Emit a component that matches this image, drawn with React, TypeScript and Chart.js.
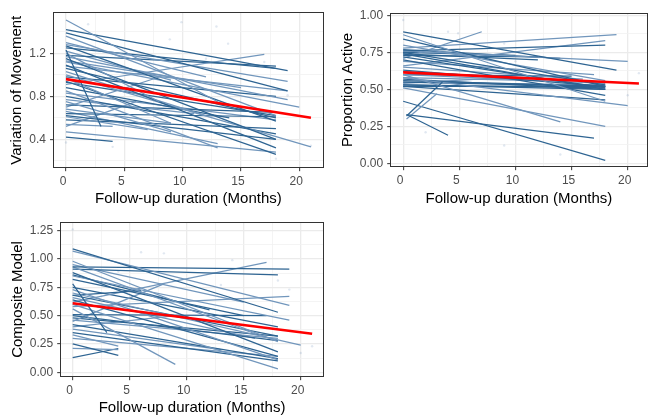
import React, { useEffect, useRef } from 'react';
import { Chart, registerables } from 'chart.js';

Chart.register(...registerables);

const FONT = '"Liberation Sans", Arial, Helvetica, sans-serif';
const DARK = '#2E6492';
const LIGHT = '#7196BC';
const POINT = 'rgba(70,115,165,0.16)';

// ---------- shared ----------
const monthMajor = [0, 5, 10, 15, 20];
const monthMinor = [2.5, 7.5, 12.5, 17.5];
const meanMonths = [0, 21];
const xTitle = 'Follow-up duration (Months)';

// ---------- Panel 1: Variation of Movement ----------
const vomStart = [1.51, 1.42, 1.39, 1.36, 1.28, 1.27, 1.25, 1.23, 1.2, 1.17, 1.15, 1.13, 1.12, 1.09, 1.06, 1.03, 1.0, 0.98, 0.97, 0.94, 0.91, 0.88, 0.85, 0.8, 0.77, 0.75, 0.72, 0.7, 0.68, 0.64, 0.62, 0.61, 0.54, 0.52, 0.47, 0.42, 1.3, 1.18, 1.08, 0.93, 0.83, 0.66, 1.22, 0.58];
const vomEnd = [0.75, 1.04, 0.85, 0.62, 0.94, 0.57, 1.06, 0.52, 0.75, 0.77, 0.4, 0.88, 0.7, 0.32, 0.6, 0.62, 0.33, 0.8, 0.55, 0.26, 1.19, 0.6, 0.32, 0.45, 0.64, 0.47, 0.65, 0.98, 0.55, 0.61, 0.4, 0.49, 0.52, 0.75, 0.28, 0.38, 0.98, 1.08, 0.85, 0.62, 0.58, 0.36, 0.95, 0.5];
const vomMonths = [13, 19, 19, 18, 19, 18, 18, 3, 8, 19, 18, 15, 20, 18, 18, 12, 21, 18, 9, 18, 17, 14, 13, 18, 11, 9, 18, 8, 9, 18, 18, 7, 4, 6, 18, 4, 12, 18, 19, 18, 18, 13, 9, 18];
const vomDark = [0, 1, 1, 0, 0, 1, 1, 1, 0, 0, 1, 0, 0, 1, 1, 0, 0, 1, 0, 1, 0, 1, 0, 1, 0, 0, 1, 0, 0, 1, 1, 0, 0, 0, 0, 1, 0, 1, 0, 1, 0, 0, 0, 1];
const vomMean = [0.96, 0.6];
const vomPtsX = [0, 1.9, 4, 8.9, 9.9, 12, 12.9, 13.9, 17, 18, 19, 21];
const vomPtsY = [0.37, 1.47, 0.33, 1.33, 1.49, 1.15, 1.45, 1.29, 1.12, 0.22, 0.81, 0.34];
const vomMajor = [0.4, 0.8, 1.2];
const vomMinor = [0.2, 0.6, 1.0, 1.4];

// ---------- Panel 2: Proportion Active ----------
const paStartMonths = [0.3, 0.3, 0.3, 0.3];
const paStart = [0.33, 0.33, 0.32, 0.3, 0.89, 0.87, 0.84, 0.8, 0.78, 0.76, 0.76, 0.75, 0.74, 0.73, 0.72, 0.71, 0.7, 0.6, 0.66, 0.65, 0.63, 0.6, 0.6, 0.58, 0.56, 0.55, 0.54, 0.53, 0.52, 0.51, 0.42, 0.74, 0.77, 0.75, 0.53, 0.55, 0.57, 0.52, 0.58, 0.62, 0.69];
const paEnd = [0.17, 0.19, 0.55, 0.47, 0.63, 0.42, 0.52, 0.56, 0.87, 0.8, 0.69, 0.53, 0.5, 0.72, 0.51, 0.89, 0.46, 0.28, 0.83, 0.57, 0.52, 0.54, 0.59, 0.39, 0.52, 0.52, 0.58, 0.5, 0.43, 0.25, 0.02, 0.7, 0.71, 0.73, 0.51, 0.53, 0.5, 0.52, 0.56, 0.55, 0.6];
const paMonths = [17, 4, 3.5, 3, 19, 18, 18, 18, 19, 18, 20, 18, 18, 12, 18, 7, 18, 14, 18, 16, 18, 18, 15, 20, 18, 18, 9, 18, 18, 18, 18, 12, 14, 10, 18, 18, 18, 18, 12, 18, 17];
const paDark = [1, 1, 1, 0, 1, 0, 1, 0, 0, 1, 0, 1, 1, 1, 1, 0, 1, 0, 0, 0, 1, 0, 1, 0, 1, 1, 0, 1, 1, 0, 1, 1, 1, 1, 1, 0, 1, 1, 0, 1, 0];
const paMean = [0.615, 0.54];
const paPtsX = [0, 4, 4.9, 9, 10, 13, 21, 20, 9, 14, 2, 10];
const paPtsY = [0.97, 0.89, 0.88, 0.81, 0.69, 0.62, 0.61, 0.46, 0.12, 0.06, 0.21, 0.24];
const paMajor = [0, 0.25, 0.5, 0.75, 1.0];
const paMinor = [0.125, 0.375, 0.625, 0.875];

// ---------- Panel 3: Composite Model ----------
const cmStart = [1.09, 1.07, 0.98, 0.93, 0.93, 0.91, 0.88, 0.85, 0.82, 0.78, 0.73, 0.7, 0.68, 0.68, 0.64, 0.62, 0.6, 0.58, 0.56, 0.51, 0.5, 0.46, 0.45, 0.42, 0.38, 0.35, 0.33, 0.25, 0.21, 0.13, 0.95, 0.75, 0.66, 0.48, 0.4, 0.86, 0.3];
const cmEnd = [0.53, 0.59, 0.27, 0.91, 0.34, 0.86, 0.18, 0.46, 0.5, 0.35, 0.11, 0.24, 0.32, 0.72, 0.14, 0.97, 0.03, 0.67, 0.07, 0.5, 0.28, 0.3, 0.78, 0.12, 0.2, 0.1, 0.23, 0.15, 0.2, 0.21, 0.62, 0.4, 0.3, 0.32, 0.5, 0.55, 0.14];
const cmMonths = [18, 19, 18, 19, 16, 18, 18, 19, 15, 3, 18, 20, 18, 6, 18, 17, 18, 19, 9, 17, 18, 18, 8, 18, 13, 18, 4, 4, 4, 4, 15, 18, 16, 18, 9, 12, 18];
const cmDark = [1, 0, 0, 1, 0, 1, 1, 0, 1, 1, 0, 0, 1, 1, 1, 0, 0, 0, 0, 1, 1, 0, 0, 1, 0, 1, 0, 1, 0, 1, 0, 1, 0, 1, 0, 1, 0];
const cmMean = [0.61, 0.34];
const cmPtsX = [0, 6, 8, 4, 14, 18, 19, 20, 21, 13];
const cmPtsY = [1.26, 1.06, 1.05, 0.89, 0.99, 0.81, 0.73, 0.17, 0.23, 0.77];
const cmMajor = [0, 0.25, 0.5, 0.75, 1.0, 1.25];
const cmMinor = [0.125, 0.375, 0.625, 0.875, 1.125];

type Spec = {
  x: number; y: number; w: number; h: number;
  area: { l: number; t: number; r: number; b: number };
  xMin: number; xMax: number; yMin: number; yMax: number;
  yTitle: string; yTitlePad: number; xTitlePad: number; decimals: number;
  starts: number[]; ends: number[]; months: number[]; dark: number[]; startMonths?: number[];
  mean: number[]; ptsX: number[]; ptsY: number[]; yMajor: number[]; yMinor: number[];
};

const has = (arr: number[], v: number) => arr.some((a) => Math.abs(a - v) < 1e-9);

const panelBorder = {
  id: 'panelBorder',
  afterDatasetsDraw(chart: any) {
    const { ctx, chartArea: a } = chart;
    ctx.save();
    ctx.strokeStyle = '#333333';
    ctx.lineWidth = 1;
    const l = Math.floor(a.left) + 0.5;
    const t = Math.floor(a.top) + 0.5;
    const r = Math.floor(a.right) + 0.5;
    const b = Math.floor(a.bottom) + 0.5;
    ctx.strokeRect(l, t, r - l, b - t);
    ctx.restore();
  },
};

function gridOpts(major: number[]) {
  return {
    color: (c: any) => (c.tick && has(major, c.tick.value) ? '#EBEBEB' : '#F1F1F1'),
    lineWidth: (c: any) => (c.tick && has(major, c.tick.value) ? 1.3 : 0.8),
    tickColor: (c: any) => (c.tick && has(major, c.tick.value) ? '#333333' : 'rgba(0,0,0,0)'),
    tickLength: 3.5,
    tickWidth: 1,
    drawTicks: true,
  };
}

function buildConfig(s: Spec): any {
  const lines = s.starts.map((v, i) => ({
    type: 'line',
    data: [
      { x: s.startMonths && i < s.startMonths.length ? s.startMonths[i] : 0, y: v },
      { x: s.months[i], y: s.ends[i] },
    ],
    borderColor: s.dark[i] ? DARK : LIGHT,
    borderWidth: 1.25,
    pointRadius: 0,
    fill: false,
    order: 1,
  }));
  const mean = {
    type: 'line',
    data: meanMonths.map((m, i) => ({ x: m, y: s.mean[i] })),
    borderColor: '#FF0000',
    borderWidth: 2.6,
    pointRadius: 0,
    fill: false,
    order: 0,
  };
  const pts = {
    type: 'scatter',
    data: s.ptsX.map((x, i) => ({ x, y: s.ptsY[i] })),
    backgroundColor: POINT,
    borderWidth: 0,
    pointRadius: 1.2,
    order: 2,
  };
  const xTicks = [...monthMajor, ...monthMinor].sort((a, b) => a - b);
  const yTicks = [...s.yMajor, ...s.yMinor].sort((a, b) => a - b);
  return {
    type: 'line',
    data: { datasets: [mean, ...lines, pts] },
    plugins: [panelBorder],
    options: {
      responsive: false,
      animation: false,
      devicePixelRatio: 1,
      events: [],
      layout: { padding: { left: 0, top: s.area.t, right: s.w - s.area.r, bottom: 0 } },
      plugins: { legend: { display: false }, tooltip: { enabled: false } },
      scales: {
        x: {
          type: 'linear',
          min: s.xMin,
          max: s.xMax,
          bounds: 'data',
          afterFit: (sc: any) => { sc.height = s.h - s.area.b; },
          afterBuildTicks: (sc: any) => { sc.ticks = xTicks.map((v) => ({ value: v })); },
          ticks: {
            autoSkip: false, maxRotation: 0, minRotation: 0, padding: 3.5, labelOffset: -3,
            color: '#4D4D4D', font: { family: FONT, size: 12 },
            callback: (v: number) => (has(monthMajor, v) ? String(v) : ''),
          },
          grid: gridOpts(monthMajor),
          border: { display: false },
          title: {
            display: true, text: xTitle, color: '#000000',
            font: { family: FONT, size: 15 }, padding: { top: 0, bottom: s.xTitlePad },
          },
        },
        y: {
          type: 'linear',
          min: s.yMin,
          max: s.yMax,
          bounds: 'data',
          afterFit: (sc: any) => { sc.width = s.area.l; },
          afterBuildTicks: (sc: any) => { sc.ticks = yTicks.map((v) => ({ value: v })); },
          ticks: {
            autoSkip: false, padding: 4,
            color: '#4D4D4D', font: { family: FONT, size: 12 },
            callback: (v: number) => (has(s.yMajor, v) ? v.toFixed(s.decimals) : ''),
          },
          grid: gridOpts(s.yMajor),
          border: { display: false },
          title: {
            display: true, text: s.yTitle, color: '#000000',
            font: { family: FONT, size: 15 }, padding: { top: s.yTitlePad, bottom: 0 },
          },
        },
      },
    },
  };
}

const specs: Spec[] = [
  {
    x: 0, y: 0, w: 330, h: 210,
    area: { l: 53.5, t: 12.7, r: 323.3, b: 167.7 },
    xMin: -1.07, xMax: 22.06, yMin: 0.136, yMax: 1.578,
    yTitle: 'Variation of Movement', yTitlePad: 8, xTitlePad: 2, decimals: 1,
    starts: vomStart, ends: vomEnd, months: vomMonths, dark: vomDark,
    mean: vomMean, ptsX: vomPtsX, ptsY: vomPtsY, yMajor: vomMajor, yMinor: vomMinor,
  },
  {
    x: 330, y: 0, w: 321, h: 210,
    area: { l: 60.7, t: 13.3, r: 319.5, b: 166.7 },
    xMin: -1.11, xMax: 21.72, yMin: -0.023, yMax: 1.015,
    yTitle: 'Proportion Active', yTitlePad: 8.5, xTitlePad: 2, decimals: 2,
    starts: paStart, ends: paEnd, months: paMonths, dark: paDark, startMonths: paStartMonths,
    mean: paMean, ptsX: paPtsX, ptsY: paPtsY, yMajor: paMajor, yMinor: paMinor,
  },
  {
    x: 0, y: 210, w: 330, h: 207,
    area: { l: 60.7, t: 12.3, r: 323.3, b: 166.7 },
    xMin: -1.05, xMax: 21.98, yMin: -0.039, yMax: 1.324,
    yTitle: 'Composite Model', yTitlePad: 9, xTitlePad: 0, decimals: 2,
    starts: cmStart, ends: cmEnd, months: cmMonths, dark: cmDark,
    mean: cmMean, ptsX: cmPtsX, ptsY: cmPtsY, yMajor: cmMajor, yMinor: cmMinor,
  },
];

function Panel({ spec }: { spec: Spec }) {
  const ref = useRef<HTMLCanvasElement>(null);
  useEffect(() => {
    if (!ref.current) return;
    const chart = new Chart(ref.current, buildConfig(spec));
    return () => chart.destroy();
  }, [spec]);
  return (
    <canvas
      ref={ref}
      width={spec.w}
      height={spec.h}
      style={{ position: 'absolute', left: spec.x, top: spec.y, width: spec.w, height: spec.h }}
    />
  );
}

export default function App() {
  return (
    <div style={{ position: 'absolute', left: 0, top: 0, width: 651, height: 417, background: '#FFFFFF', overflow: 'hidden' }}>
      {specs.map((s, i) => (
        <Panel key={i} spec={s} />
      ))}
    </div>
  );
}
